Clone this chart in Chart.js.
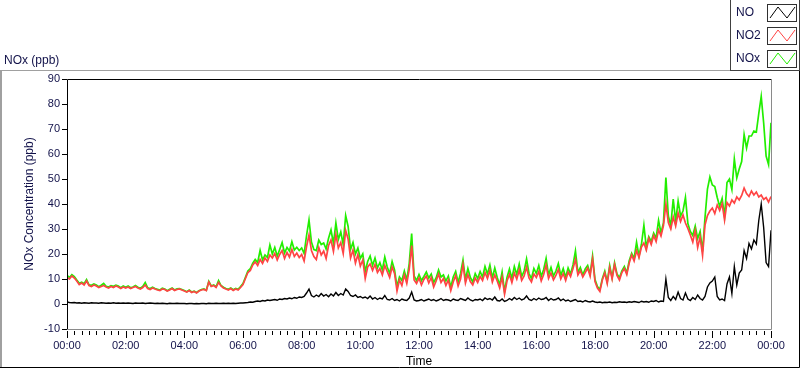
<!DOCTYPE html>
<html>
<head>
    <title>NOx (ppb)</title>
    <script src="https://cdn.jsdelivr.net/npm/chart.js"></script>
    <style>
        html, body { margin: 0; padding: 0; background: #fff; }
        #wrap { width: 800px; height: 369px; }
    </style>
</head>
<body>
    <div id="wrap"><canvas id="noxChart" width="800" height="369"></canvas></div>
    <script>
        // 5-minute samples, one hour per row, 00:00 .. 24:00
        const no = [
            0.8, 0.6, 0.5, 0.6, 0.4, 0.5, 0.3, 0.5, 0.4, 0.3, 0.5, 0.4,
            0.4, 0.3, 0.5, 0.4, 0.3, 0.4, 0.3, 0.5, 0.3, 0.4, 0.3, 0.4,
            0.3, 0.4, 0.3, 0.2, 0.4, 0.3, 0.3, 0.4, 0.2, 0.3, 0.4, 0.3,
            0.2, 0.3, 0.2, 0.3, 0.2, 0.1, 0.3, 0.2, 0.2, 0.3, 0.2, 0.2,
            0.2, 0.1, 0.2, 0.2, 0.1, 0.2, 0.1, 0.2, 0.2, 0.1, 0.3, 0.2,
            0.2, 0.3, 0.2, 0.2, 0.3, 0.2, 0.3, 0.2, 0.3, 0.2, 0.3, 0.4,
            0.4, 0.5, 0.6, 0.8, 0.7, 1.0, 1.2, 1.0, 1.4, 1.2, 1.6, 1.4,
            1.6, 1.8, 1.5, 2.0, 1.8, 2.2, 2.0, 2.4, 2.1, 2.6, 2.3, 2.8,
            2.6, 3.0, 4.4, 6.0, 3.4, 2.8, 3.6, 3.0, 4.2, 3.2, 3.8, 2.9,
            4.0, 3.2, 4.6, 3.4, 4.2, 3.6, 6.0, 5.0, 3.4, 3.0, 3.6, 2.6,
            3.0, 2.4, 2.8, 2.2, 3.2, 2.0, 2.6, 1.8, 2.4, 2.0, 3.4, 1.8,
            1.6, 2.2, 1.4, 1.8, 1.2, 2.0, 1.6, 1.4, 2.4, 4.8, 1.6, 1.2,
            1.4, 1.8, 1.2, 1.6, 2.0, 1.4, 1.8, 1.2, 1.6, 2.2, 1.4, 1.8,
            1.6, 1.2, 2.0, 1.6, 1.4, 2.2, 1.8, 1.4, 2.4, 1.6, 1.2, 1.8,
            1.6, 2.0, 1.4, 2.4, 1.8, 2.2, 1.6, 2.8, 1.4, 1.2, 2.0, 1.0,
            1.4, 2.2, 1.6, 2.6, 1.8, 2.4, 1.6, 2.0, 3.2, 1.8, 1.4, 2.2,
            1.6, 2.4, 1.8, 2.0, 2.6, 1.4, 2.2, 1.6, 1.8, 2.4, 1.4, 2.0,
            1.2, 1.6, 1.0, 1.4, 1.8, 1.0, 1.2, 0.8, 1.4, 1.0, 0.8, 1.2,
            0.8, 0.6, 0.8, 0.5, 0.7, 0.6, 0.8, 0.5, 0.7, 0.6, 0.9, 0.7,
            0.8, 0.6, 0.9, 0.7, 1.0, 0.8, 0.6, 1.1, 0.8, 1.0, 0.7, 1.2,
            1.0, 1.4, 0.8, 1.2, 1.0, 10.0, 2.6, 1.4, 3.0, 1.8, 4.8, 2.2,
            1.6, 4.4, 2.0, 1.4, 2.6, 1.8, 3.6, 2.2, 1.6, 3.0, 6.8, 8.4,
            9.2, 10.8, 3.0, 1.6, 2.0, 1.4, 8.0, 10.8, 4.2, 15.0, 7.6, 12.4,
            13.6, 21.4, 18.2, 24.2, 22.0, 25.6, 24.0, 33.4, 40.0, 30.6, 16.6, 15.0,
            29.5
        ];
        const no2 = [
            10.6, 10.0, 11.2, 10.4, 9.2, 7.8, 8.4, 7.6, 9.2, 7.4, 7.0, 7.6,
            7.2, 6.6, 7.0, 7.4, 6.8, 6.4, 7.0, 6.6, 7.2, 6.8, 6.2, 6.8,
            6.4, 6.8, 6.2, 6.6, 7.0, 6.4, 6.0, 6.6, 7.6, 6.2, 5.8, 6.4,
            6.0, 5.6, 5.4, 6.0, 5.8, 5.2, 5.6, 6.2, 5.4, 5.8, 6.0, 5.6,
            5.2, 4.8, 5.4, 4.6, 5.0, 4.4, 5.2, 5.6, 5.8, 5.4, 8.8, 7.0,
            7.4, 6.6, 8.6, 7.2, 6.4, 6.0, 5.6, 6.2, 5.4, 6.0, 5.6, 6.6,
            7.8, 10.2, 12.6, 13.4, 15.6, 16.8, 15.4, 17.8, 16.2, 18.4, 17.0, 19.6,
            18.4, 20.2, 17.6, 19.8, 21.4, 18.2, 20.6, 18.8, 21.8, 19.0, 20.4, 18.6,
            19.8, 17.2, 23.0, 27.6, 21.4, 19.0, 17.8, 22.6, 19.6, 21.2, 18.2, 23.4,
            25.6, 21.0, 27.8, 22.4, 24.6, 20.2, 29.4, 26.0, 18.4, 21.6, 16.4, 19.8,
            15.2, 17.6, 10.2, 14.8, 16.0, 13.4, 15.8, 12.6, 14.2, 11.6, 15.4, 13.0,
            10.6, 14.8, 12.2, 5.2, 9.6, 7.4, 11.6, 8.2, 13.8, 23.4, 9.6, 8.2,
            10.4, 7.6, 9.8, 11.2, 8.4, 10.6, 6.8, 9.2, 12.0, 8.6, 10.2, 7.4,
            9.6, 5.4, 8.8, 11.4, 7.2, 10.0, 15.8, 8.4, 11.8, 9.0, 7.6, 10.4,
            8.6, 11.0, 9.4, 12.6, 10.2, 13.4, 8.8, 11.6, 9.2, 6.4, 10.8, 4.0,
            9.2, 11.8, 8.6, 12.4, 10.0, 13.6, 9.4, 11.2, 14.8, 10.4, 8.8, 12.0,
            10.6, 13.0, 9.2, 11.8, 15.6, 10.2, 12.4, 9.6, 11.4, 13.8, 10.0, 12.2,
            9.4, 12.8, 11.0, 14.2, 17.8, 11.6, 13.4, 10.8, 12.6, 14.4, 11.2, 18.0,
            9.0, 6.4, 5.0, 9.6, 12.4, 8.2, 14.6, 10.0, 15.8, 11.4, 9.6, 12.6,
            14.2, 11.8, 16.4, 19.6, 17.2, 21.4, 18.6, 22.8, 24.4, 21.6, 26.2, 23.8,
            27.4, 25.0, 29.6, 27.2, 31.4, 40.0, 32.6, 30.0, 34.8, 31.2, 36.4, 33.0,
            35.6, 32.4, 30.2, 27.6, 24.8, 29.4, 22.6, 26.8, 19.4, 31.6, 35.4, 37.2,
            38.4, 36.2, 39.6, 37.4, 40.2, 33.6, 40.6, 39.2, 41.6, 40.4, 42.8, 41.6,
            43.4, 46.4, 44.2, 43.0, 45.2, 43.6, 44.8, 42.8, 43.6, 41.8, 42.6, 40.8,
            43.0
        ];
        const nox = [
            11.4, 10.6, 11.7, 11.0, 9.6, 8.3, 8.7, 8.1, 9.8, 7.7, 7.5, 8.0,
            7.6, 6.9, 7.5, 8.2, 7.1, 6.8, 7.3, 7.1, 7.5, 7.2, 6.5, 7.2,
            6.7, 7.2, 6.5, 6.8, 7.4, 6.7, 6.3, 7.0, 8.6, 6.5, 6.2, 6.7,
            6.2, 5.9, 5.6, 6.3, 6.0, 5.3, 5.9, 6.4, 5.6, 6.1, 6.2, 5.8,
            5.4, 4.9, 5.6, 4.8, 5.1, 4.6, 5.3, 5.8, 6.0, 5.5, 9.1, 7.2,
            7.6, 6.9, 9.4, 7.4, 6.7, 6.2, 5.9, 6.4, 5.7, 6.2, 5.9, 7.0,
            8.2, 10.7, 13.2, 14.2, 16.3, 17.8, 16.6, 21.5, 17.6, 19.6, 18.6, 23.6,
            20.0, 22.6, 19.1, 21.8, 24.6, 20.4, 22.6, 21.2, 24.9, 21.6, 22.7, 21.4,
            22.4, 20.2, 27.4, 33.6, 24.8, 21.8, 21.4, 25.6, 23.8, 24.4, 22.0, 26.3,
            29.6, 24.2, 32.4, 25.8, 28.8, 23.8, 35.4, 31.0, 21.8, 24.6, 20.0, 22.4,
            18.2, 20.0, 13.0, 17.0, 19.2, 15.4, 18.4, 14.4, 16.6, 13.6, 18.8, 14.8,
            12.2, 17.0, 13.6, 7.0, 10.8, 9.4, 13.2, 9.6, 16.2, 28.2, 11.2, 9.4,
            11.8, 9.4, 11.0, 12.8, 10.4, 12.0, 8.6, 10.4, 13.6, 10.8, 11.6, 9.2,
            11.2, 6.6, 10.8, 13.0, 8.6, 12.2, 17.6, 9.8, 14.2, 10.6, 8.8, 12.2,
            10.2, 13.0, 10.8, 15.0, 12.0, 15.6, 10.4, 14.4, 10.6, 7.6, 12.8, 5.0,
            10.6, 14.0, 10.2, 15.0, 11.8, 16.0, 11.0, 13.2, 18.0, 12.2, 10.2, 14.2,
            12.2, 15.4, 11.0, 13.8, 18.2, 11.6, 14.6, 11.2, 13.2, 16.2, 11.4, 14.2,
            10.6, 14.4, 12.0, 15.6, 21.2, 12.6, 14.6, 11.6, 14.0, 15.4, 12.0, 19.2,
            9.8, 7.0, 5.8, 10.1, 13.1, 8.8, 15.4, 10.5, 16.5, 12.0, 10.5, 13.3,
            15.0, 12.4, 17.3, 20.3, 18.2, 24.7, 19.2, 23.9, 31.5, 22.6, 26.9, 25.0,
            28.4, 26.4, 33.4, 28.4, 32.4, 50.6, 35.2, 31.4, 42.0, 33.0, 41.2, 35.2,
            37.2, 42.6, 32.2, 29.0, 27.4, 31.2, 26.2, 29.0, 21.0, 34.6, 46.0, 50.8,
            47.6, 47.0, 42.6, 39.0, 42.2, 35.0, 48.6, 50.0, 45.8, 58.0, 50.4, 54.0,
            57.0, 67.8, 62.4, 67.2, 67.2, 69.2, 68.8, 76.2, 83.0, 72.4, 59.2, 55.8,
            72.5
        ];
        const seriesNames = ['NO', 'NO2', 'NOx'];
        const seriesColors = ['#000000', '#ff4444', '#22ee00'];
        const sampleStep = 5; // minutes between samples
        const minutes = no.map((_, i) => i * sampleStep);

        const textColor = '#12124a';
        const fontFamily = '"Liberation Sans", Arial, sans-serif';

        function hhmm(m) {
            const h = Math.floor(m / 60) % 24;
            return String(h).padStart(2, '0') + ':' + String(m % 60).padStart(2, '0');
        }

        // frame, minor ticks, chart title and the legend box
        const labviewFrame = {
            id: 'labviewFrame',
            afterDraw(chart) {
                const ctx = chart.ctx;
                const a = chart.chartArea;
                const xs = chart.scales.x;
                ctx.save();
                ctx.lineWidth = 1;

                // outer frame
                ctx.strokeStyle = '#a0a0a0';
                ctx.beginPath();
                ctx.moveTo(0, 70.5); ctx.lineTo(730, 70.5);
                ctx.stroke();
                ctx.lineWidth = 2;
                ctx.beginPath();
                ctx.moveTo(1, 70); ctx.lineTo(1, 368);
                ctx.stroke();
                ctx.lineWidth = 1;
                ctx.strokeStyle = '#000';
                ctx.beginPath();
                ctx.moveTo(0, 367.5); ctx.lineTo(799.5, 367.5); ctx.lineTo(799.5, 71);
                ctx.stroke();

                // plot border
                ctx.strokeStyle = '#000';
                ctx.beginPath();
                ctx.moveTo(a.left + 0.5, a.bottom + 0.5);
                ctx.lineTo(a.left + 0.5, a.top + 0.5);
                ctx.lineTo(a.right + 0.5, a.top + 0.5);
                ctx.stroke();
                ctx.strokeStyle = '#8a8a8a';
                ctx.beginPath();
                ctx.moveTo(a.right + 0.5, a.top + 0.5);
                ctx.lineTo(a.right + 0.5, a.bottom + 0.5);
                ctx.lineTo(a.left + 0.5, a.bottom + 0.5);
                ctx.stroke();

                // x ticks every 15 min, longer at labelled hours
                ctx.strokeStyle = '#000';
                ctx.beginPath();
                for (let m = xs.min; m <= xs.max; m += 15) {
                    const px = Math.round(xs.getPixelForValue(m)) + 0.5;
                    const len = (m % 120 === 0) ? 7 : 4;
                    ctx.moveTo(px, a.bottom + 2);
                    ctx.lineTo(px, a.bottom + 2 + len);
                }
                ctx.stroke();

                // title
                ctx.fillStyle = textColor;
                ctx.font = '12px ' + fontFamily;
                ctx.textBaseline = 'alphabetic';
                ctx.textAlign = 'left';
                ctx.fillText('NOx (ppb)', 4, 64);

                // legend box
                ctx.fillStyle = '#fff';
                ctx.fillRect(730, 0, 70, 71);
                ctx.strokeStyle = '#404040';
                ctx.strokeRect(730.5, -0.5, 69, 71);
                ctx.textBaseline = 'middle';
                seriesNames.forEach((name, i) => {
                    const by = 4 + i * 23;
                    ctx.fillStyle = textColor;
                    ctx.fillText(name, 736, by + 9);
                    ctx.strokeStyle = '#303030';
                    ctx.strokeRect(767.5, by + 0.5, 29, 17);
                    ctx.strokeStyle = seriesColors[i];
                    ctx.beginPath();
                    ctx.moveTo(770, by + 14);
                    ctx.lineTo(778, by + 3);
                    ctx.lineTo(787, by + 14);
                    ctx.lineTo(795, by + 3);
                    ctx.stroke();
                });
                ctx.restore();
            }
        };

        const ctx = document.getElementById('noxChart').getContext('2d');
        const noxChart = new Chart(ctx, {
            type: 'line',
            data: {
                labels: minutes,
                datasets: [{
                    label: seriesNames[0],
                    data: no,
                    borderColor: seriesColors[0],
                    borderWidth: 1.4
                }, {
                    label: seriesNames[1],
                    data: no2,
                    borderColor: seriesColors[1],
                    borderWidth: 1.7
                }, {
                    label: seriesNames[2],
                    data: nox,
                    borderColor: seriesColors[2],
                    borderWidth: 1.7
                }]
            },
            options: {
                responsive: false,
                animation: false,
                events: [],
                layout: { padding: { top: 79, right: 29, bottom: 0, left: 0 } },
                elements: { point: { radius: 0 }, line: { tension: 0 } },
                plugins: { legend: { display: false }, tooltip: { enabled: false } },
                scales: {
                    x: {
                        type: 'linear',
                        min: 0,
                        max: 1440,
                        afterFit: s => { s.height = 40; },
                        grid: { display: false, drawTicks: false },
                        border: { display: false },
                        ticks: {
                            stepSize: 120,
                            padding: 10,
                            maxRotation: 0,
                            autoSkip: false,
                            color: textColor,
                            font: { family: fontFamily, size: 11 },
                            callback: v => hhmm(v)
                        },
                        title: {
                            display: true,
                            text: 'Time',
                            color: '#000',
                            font: { family: fontFamily, size: 12 },
                            padding: { top: 0, bottom: 0 }
                        }
                    },
                    y: {
                        min: -10,
                        max: 90,
                        afterFit: s => { s.width = 67; },
                        grid: { drawOnChartArea: false, tickLength: 5, color: '#000' },
                        border: { display: false },
                        ticks: {
                            stepSize: 10,
                            padding: 2,
                            color: textColor,
                            font: { family: fontFamily, size: 11 }
                        },
                        title: {
                            display: true,
                            text: 'NOx Concentration (ppb)',
                            color: textColor,
                            font: { family: fontFamily, size: 12 },
                            padding: { top: 22, bottom: 0 }
                        }
                    }
                }
            },
            plugins: [labviewFrame]
        });
    </script>
</body>
</html>
